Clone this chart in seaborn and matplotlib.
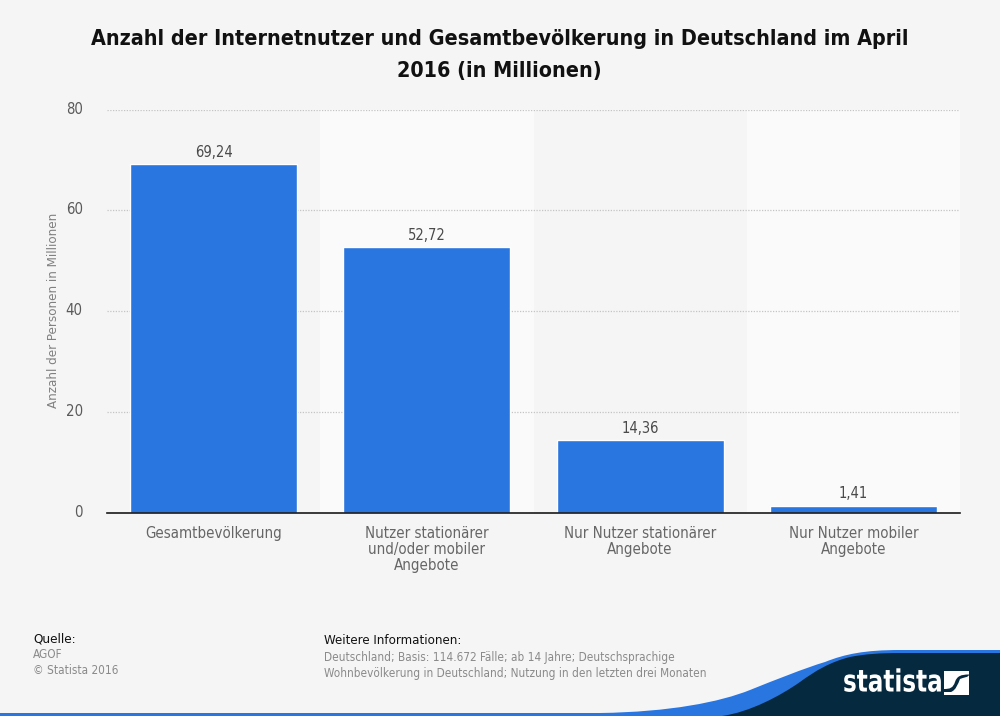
import matplotlib
matplotlib.use("Agg")
import matplotlib.pyplot as plt
from matplotlib.path import Path
from matplotlib.patches import PathPatch, Rectangle
from matplotlib.patheffects import AbstractPathEffect
from matplotlib.transforms import Affine2D, ScaledTranslation
import pandas as pd
import seaborn as sns

categories = ["Gesamtbevölkerung", "Nutzer stationärer\nund/oder mobiler\nAngebote",
              "Nur Nutzer stationärer\nAngebote", "Nur Nutzer mobiler\nAngebote"]
values = [69.24, 52.72, 14.36, 1.41]
value_labels = ["69,24", "52,72", "14,36", "1,41"]
yticks = [0, 20, 40, 60, 80]

BG = "#f5f5f5"
BLUE = "#2976e0"
NAVY = "#05293f"


class SqueezeX(AbstractPathEffect):
    """Narrow a text horizontally about a pixel position."""

    def __init__(self, x0, factor):
        super().__init__()
        self.x0, self.factor = x0, factor

    def draw_path(self, renderer, gc, tpath, affine, rgbFace=None):
        squeeze = Affine2D().translate(-self.x0, 0).scale(self.factor, 1).translate(self.x0, 0)
        renderer.draw_path(gc, tpath, affine + squeeze, rgbFace)


sns.set_theme(style="white")
plt.rcParams["font.family"] = ["DejaVu Sans"]
W, H = 1000, 716
fig = plt.figure(figsize=(W / 100, H / 100), dpi=100, facecolor=BG)
ax = fig.add_axes([107 / W, 1 - 512.7 / H, 853 / W, 403 / H], facecolor=BG)

ax.axvspan(0.5, 1.5, color="#fafafa", lw=0, zorder=0)
ax.axvspan(2.5, 3.5, color="#fafafa", lw=0, zorder=0)

df = pd.DataFrame({"Kategorie": categories, "Wert": values})
sns.barplot(data=df, x="Kategorie", y="Wert", color=BLUE, saturation=1, width=0.783, ax=ax, zorder=3)
ax.set_xlim(-0.5, 3.5)
ax.set_ylim(0, 80)
ax.set_yticks(yticks)
ax.set_axisbelow(True)
ax.yaxis.grid(True, color="#c4c4c4", lw=0.9, ls=(0, (1, 1.2)))
ax.xaxis.grid(False)
for s in ["top", "right", "left"]:
    ax.spines[s].set_visible(False)
ax.spines["bottom"].set_color("#1a1a1a")
ax.spines["bottom"].set_linewidth(1.2)
ax.spines["bottom"].set_zorder(5)
ax.tick_params(axis="both", length=0)
ax.tick_params(axis="y", pad=17.5, labelsize=10.7, labelcolor="#5a5a5a")
ax.tick_params(axis="x", pad=9.5, labelsize=10.8, labelcolor="#666666")
for t in ax.get_xticklabels() + ax.get_yticklabels():
    t.set_fontstretch("condensed")
for t in ax.get_xticklabels():
    t.set_linespacing(1.08)
shift_up = ScaledTranslation(0, 1.5 / 72, fig.dpi_scale_trans)
for t in ax.get_yticklabels():
    t.set_transform(t.get_transform() + shift_up)
ax.set_xlabel("")
ax.set_ylabel("Anzahl der Personen in Millionen", fontsize=9.5, color="#808080", stretch="condensed", labelpad=0)
ax.yaxis.set_label_coords((60 - 107) / 853, (512.7 - 310) / 403)

for container in ax.containers:
    ax.bar_label(container, labels=value_labels, padding=3, fontsize=10.5, color="#4a4a4a", fontstretch="condensed")

fig.text(500 / W, 1 - 39 / H, "Anzahl der Internetnutzer und Gesamtbevölkerung in Deutschland im April",
         ha="center", va="center", fontsize=15.4, fontweight="bold", color="#111111", stretch="condensed")
fig.text(499 / W, 1 - 71 / H, "2016 (in Millionen)", ha="center", va="center", fontsize=15.4,
         fontweight="bold", color="#111111", stretch="condensed")

fig.text(33 / W, 1 - 639 / H, "Quelle:", ha="left", va="center", fontsize=8.7, color="#111111")
fig.text(33 / W, 1 - 655 / H, "AGOF", ha="left", va="center", fontsize=8.5, color="#8a8a8a", stretch="condensed")
fig.text(33 / W, 1 - 671 / H, "© Statista 2016", ha="left", va="center", fontsize=8.5, color="#8a8a8a", stretch="condensed")
fig.text(324 / W, 1 - 640 / H, "Weitere Informationen:", ha="left", va="center", fontsize=8.6, color="#111111")
fig.text(324 / W, 1 - 658 / H, "Deutschland; Basis: 114.672 Fälle; ab 14 Jahre; Deutschsprachige",
         ha="left", va="center", fontsize=8.5, color="#8a8a8a", stretch="condensed")
fig.text(324 / W, 1 - 673 / H, "Wohnbevölkerung in Deutschland; Nutzung in den letzten drei Monaten",
         ha="left", va="center", fontsize=8.5, color="#8a8a8a", stretch="condensed")

# Footer decoration in pixel coordinates
deco = fig.add_axes([0, 0, 1, 1], facecolor="none", zorder=10)
deco.set_xlim(0, W)
deco.set_ylim(H, 0)
deco.axis("off")
C4, L2 = Path.CURVE4, Path.LINETO
blue_v = [(0, 713), (600, 713), (670, 712), (720, 702), (750, 690), (775, 680), (805, 668), (825, 662),
          (845, 654), (865, 650), (900, 650), (1000, 650), (1000, 716), (0, 716), (0, 713)]
blue_c = [Path.MOVETO, L2, C4, C4, C4, C4, C4, C4, C4, C4, C4, L2, L2, L2, Path.CLOSEPOLY]
deco.add_patch(PathPatch(Path(blue_v, blue_c), fc=BLUE, ec="none"))
navy_v = [(722, 716), (750, 712), (780, 696), (800, 682), (815, 671), (830, 662), (850, 657),
          (865, 654), (880, 653), (900, 653), (1000, 653), (1000, 716), (722, 716)]
navy_c = [Path.MOVETO, C4, C4, C4, C4, C4, C4, C4, C4, C4, L2, L2, Path.CLOSEPOLY]
deco.add_patch(PathPatch(Path(navy_v, navy_c), fc=NAVY, ec="none"))
logo = deco.text(843, 683, "statista", color="white", fontsize=22, fontweight="bold", ha="left", va="center",
                 fontstretch="condensed")
logo.set_path_effects([SqueezeX(843, 0.84)])
deco.add_patch(Rectangle((944, 670.5), 25, 24.5, fc="white", ec="none"))
swv = [(944, 692), (951, 692), (956, 690), (958, 684), (960, 679), (963, 677.5), (969, 677.5), (969, 674.5),
       (961, 674.5), (957, 676), (955, 682), (953, 688), (950, 689), (944, 689), (944, 692)]
swc = [Path.MOVETO, L2, C4, C4, C4, C4, C4, L2, C4, C4, C4, C4, C4, C4, Path.CLOSEPOLY]
deco.add_patch(PathPatch(Path(swv, swc), fc=NAVY, ec="none"))

fig.savefig("out.png", dpi=100, facecolor=BG)
